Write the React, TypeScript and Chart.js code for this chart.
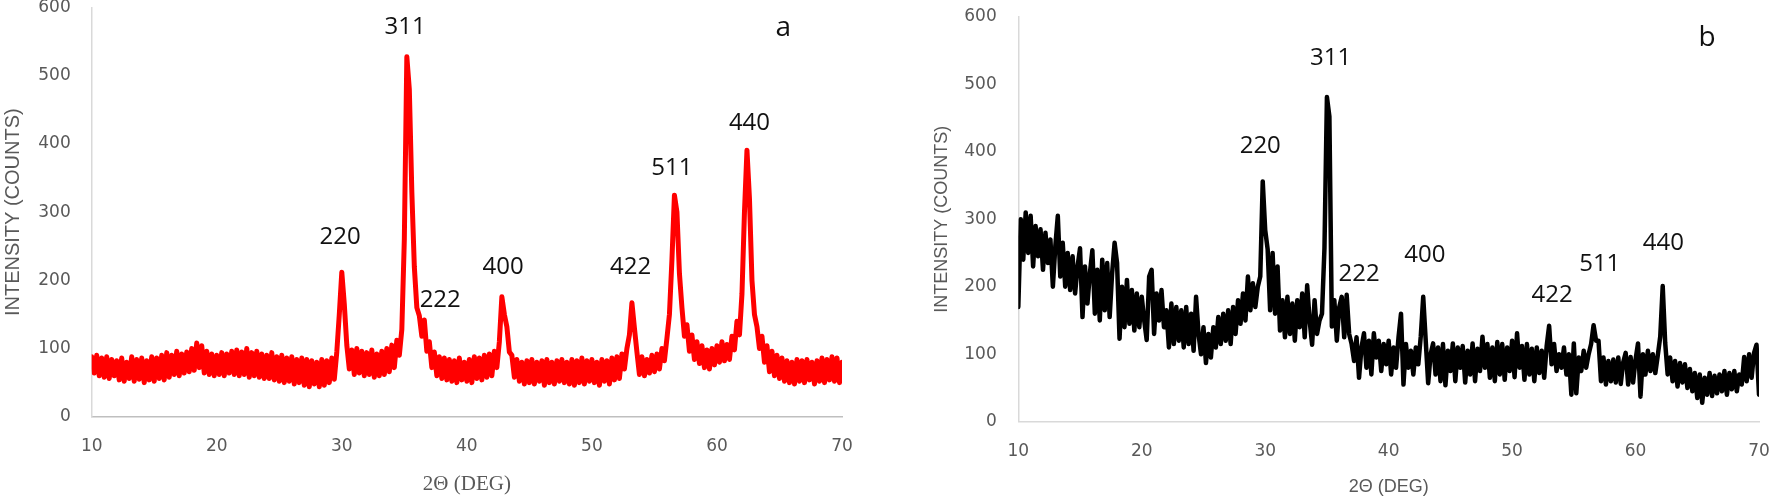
import React, { useEffect, useRef } from "react";
import { Chart, registerables } from "chart.js";

Chart.register(...registerables);

// Sampling grid (2θ, degrees)
const TWO_THETA_START = 10;
const TWO_THETA_STEP = 0.2;

// Panel a intensity (counts), one row per degree: x.0, x.2, x.4, x.6, x.8
const intensityA = [
  88, 64, 90, 60, 86,
  58, 88, 56, 84, 60,
  82, 54, 86, 52, 80,
  56, 88, 52, 84, 55,
  86, 50, 82, 54, 88,
  52, 86, 56, 90, 54,
  94, 58, 90, 62, 96,
  60, 92, 64, 95, 66,
  100, 68, 108, 72, 104,
  64, 96, 62, 92, 60,
  90, 62, 94, 60, 92,
  64, 96, 62, 98, 60,
  95, 62, 100, 58, 94,
  60, 96, 58, 92, 56,
  90, 56, 94, 54, 88,
  52, 90, 50, 86, 52,
  88, 48, 84, 50, 86,
  46, 84, 44, 82, 48,
  80, 44, 84, 46, 82,
  50, 86, 55, 95, 150,
  212, 165, 105, 70, 98,
  62, 100, 64, 96, 60,
  94, 62, 98, 58, 92,
  60, 96, 62, 100, 66,
  105, 72, 112, 90, 128,
  260, 528, 480, 330, 220,
  160, 148, 118, 142, 96,
  110, 72, 95, 60, 88,
  56, 86, 54, 84, 52,
  82, 50, 86, 54, 80,
  52, 84, 50, 88, 56,
  86, 54, 90, 58, 92,
  60, 96, 72, 110, 176,
  150, 132, 95, 90, 58,
  84, 52, 80, 48, 82,
  50, 84, 48, 80, 52,
  82, 46, 84, 50, 80,
  48, 82, 52, 84, 50,
  80, 48, 84, 46, 82,
  50, 86, 48, 82, 52,
  84, 50, 80, 46, 84,
  52, 82, 48, 86, 54,
  88, 56, 92, 70, 100,
  120, 167, 130, 95, 62,
  88, 60, 84, 64, 90,
  66, 92, 70, 100, 82,
  115, 150, 230, 325, 300,
  210, 160, 118, 135, 96,
  120, 84, 110, 78, 104,
  72, 98, 70, 100, 76,
  104, 80, 110, 82, 106,
  84, 118, 98, 140, 120,
  180, 300, 391, 320, 200,
  150, 132, 100, 118, 80,
  104, 66, 96, 60, 90,
  56, 86, 52, 82, 50,
  80, 48, 84, 52, 82,
  50, 84, 54, 80, 48,
  82, 52, 86, 50, 84,
  54, 88, 52, 86, 50,
  80,
];

// Panel b intensity (counts)
const intensityB = [
  170, 300, 240, 310, 250,
  305, 230, 290, 245, 285,
  225, 280, 235, 270, 200,
  260, 305, 215, 265, 200,
  250, 195, 245, 190, 230,
  257, 155, 230, 175, 220,
  254, 160, 225, 150, 240,
  165, 235, 155, 220, 265,
  235, 123, 200, 140, 210,
  145, 195, 135, 190, 140,
  185, 150, 121, 215, 225,
  130, 190, 150, 195, 140,
  165, 110, 175, 115, 170,
  120, 165, 110, 170, 115,
  160, 105, 185, 130, 100,
  140, 87, 130, 95, 140,
  110, 155, 115, 160, 120,
  165, 115, 170, 130, 180,
  145, 190, 150, 215, 165,
  205, 170, 200, 215, 356,
  284, 255, 165, 250, 160,
  230, 135, 180, 125, 185,
  130, 175, 120, 180, 140,
  190, 125, 202, 150, 114,
  180, 130, 150, 160, 257,
  481, 452, 141, 180, 120,
  170, 185, 125, 188, 130,
  115, 90, 125, 65, 110,
  131, 80, 120, 70, 131,
  95, 120, 75, 115, 85,
  120, 70, 110, 80, 125,
  160, 55, 115, 80, 105,
  70, 110, 85, 126, 185,
  121, 57, 100, 116, 70,
  110, 60, 115, 54, 105,
  75, 116, 60, 110, 80,
  112, 58, 105, 70, 116,
  60, 108, 75, 126, 80,
  115, 65, 110, 60, 118,
  70, 115, 62, 110, 75,
  120, 66, 131, 80, 112,
  62, 115, 70, 108, 60,
  110, 72, 105, 65, 112,
  142, 85, 115, 75, 100,
  80, 110, 70, 100, 40,
  116, 42, 95, 75, 105,
  80, 100, 115, 143, 120,
  120, 60, 95, 55, 90,
  60, 92, 58, 95, 56,
  88, 102, 55, 96, 58,
  92, 116, 37, 100, 70,
  105, 75, 100, 72, 98,
  126, 201, 117, 70, 95,
  60, 90, 52, 87, 58,
  85, 50, 78, 45, 72,
  35, 70, 28, 65, 40,
  72, 38, 68, 42, 70,
  45, 75, 40, 72, 48,
  75, 45, 70, 55, 96,
  60, 100, 65, 102, 114,
  40,
];

// Axis ranges / ticks
const X_MIN = 10;
const X_MAX = 70;
const X_STEP = 10;
const Y_MIN = 0;
const Y_MAX = 600;
const Y_STEP = 100;

// Peak annotations (Miller indices) at data coordinates
const peakTextA = ["220", "311", "222", "400", "422", "511", "440", "a"];
const peakXA = [29.86, 35.07, 37.87, 42.9, 53.1, 56.4, 62.6, 65.3];
const peakYA = [263, 571, 171, 219, 219, 364, 430, 570];

const peakTextB = ["220", "311", "222", "400", "422", "511", "440", "b"];
const peakXB = [29.6, 35.3, 37.6, 42.94, 53.24, 57.1, 62.25, 65.8];
const peakYB = [408, 538, 219, 247, 187, 233, 264, 568];

const toPoints = (vals: number[]) =>
  vals.map((v, i) => ({ x: TWO_THETA_START + i * TWO_THETA_STEP, y: v }));

type PanelOpts = {
  data: number[];
  color: string;
  lineWidth: number;
  texts: string[];
  tx: number[];
  ty: number[];
  width: number;
  padTop: number;
  padRight: number;
  yWidth: number;
  xHeight: number;
  yTickPad: number;
  xTickPad: number;
  yTitleSize: number;
  yTitlePadTop: number;
  xTitleFont: string;
  xTitleSize: number;
  xTitlePadBottom: number;
  xBorder: string;
  yBorder: string;
};

function makeConfig(o: PanelOpts): any {
  const annot = {
    id: "peakLabels",
    afterDatasetsDraw(chart: any) {
      const { ctx, scales } = chart;
      ctx.save();
      ctx.fillStyle = "#111111";
      ctx.textAlign = "center";
      ctx.textBaseline = "middle";
      o.texts.forEach((t, i) => {
        const isPanel = t.length === 1;
        ctx.font = isPanel ? '28px "Open Sans"' : '24px "Open Sans"';
        ctx.fillText(t, scales.x.getPixelForValue(o.tx[i]), scales.y.getPixelForValue(o.ty[i]));
      });
      ctx.restore();
    },
  };
  return {
    type: "line",
    data: {
      datasets: [
        {
          data: toPoints(o.data),
          borderColor: o.color,
          borderWidth: o.lineWidth,
          borderJoinStyle: "round",
          borderCapStyle: "round",
          pointRadius: 0,
          tension: 0,
          fill: false,
        },
      ],
    },
    options: {
      animation: false,
      responsive: false,
      layout: { padding: { left: 0, top: o.padTop, right: o.padRight, bottom: 0 } },
      plugins: { legend: { display: false }, tooltip: { enabled: false } },
      scales: {
        x: {
          type: "linear",
          min: X_MIN,
          max: X_MAX,
          ticks: {
            stepSize: X_STEP,
            color: "#595959",
            font: { family: "DejaVu Sans", size: 17 },
            padding: o.xTickPad,
            maxRotation: 0,
          },
          grid: { display: false, drawTicks: false },
          border: { display: true, color: o.xBorder, width: 1.5 },
          title: {
            display: true,
            text: "2Θ (DEG)",
            color: "#595959",
            font: { family: o.xTitleFont, size: o.xTitleSize },
            padding: { top: 0, bottom: o.xTitlePadBottom },
          },
          afterFit: (s: any) => {
            s.height = o.xHeight;
            s.paddingLeft = 0;
            s.paddingRight = 0;
          },
        },
        y: {
          type: "linear",
          min: Y_MIN,
          max: Y_MAX,
          ticks: {
            stepSize: Y_STEP,
            color: "#595959",
            font: { family: "DejaVu Sans", size: 17 },
            padding: o.yTickPad,
          },
          grid: { display: false, drawTicks: false },
          border: { display: true, color: o.yBorder, width: 1.5 },
          title: {
            display: true,
            text: "INTENSITY (COUNTS)",
            color: "#595959",
            font: { family: "Liberation Sans", size: o.yTitleSize },
            padding: { top: o.yTitlePadTop, bottom: 0 },
          },
          afterFit: (s: any) => {
            s.width = o.yWidth;
            s.paddingTop = 0;
            s.paddingBottom = 0;
          },
        },
      },
    },
    plugins: [annot],
  };
}

function Panel({ opts, left }: { opts: PanelOpts; left: number }) {
  const ref = useRef<HTMLCanvasElement | null>(null);
  useEffect(() => {
    if (!ref.current) return;
    const chart = new Chart(ref.current, makeConfig(opts));
    return () => chart.destroy();
  }, []);
  return (
    <div style={{ position: "absolute", left, top: 0, width: opts.width, height: 501 }}>
      <canvas ref={ref} width={opts.width} height={501} style={{ display: "block" }} />
    </div>
  );
}

const panelA: PanelOpts = {
  data: intensityA,
  color: "#ff0000",
  lineWidth: 5,
  texts: peakTextA,
  tx: peakXA,
  ty: peakYA,
  width: 880,
  padTop: 7.7,
  padRight: 38,
  yWidth: 91.7,
  xHeight: 84.3,
  yTickPad: 21,
  xTickPad: 19.5,
  yTitleSize: 20,
  yTitlePadTop: 1,
  xTitleFont: "Liberation Serif",
  xTitleSize: 21,
  xTitlePadBottom: 4,
  xBorder: "#bfbfbf",
  yBorder: "#d9d9d9",
};

const panelB: PanelOpts = {
  data: intensityB,
  color: "#000000",
  lineWidth: 4.5,
  texts: peakTextB,
  tx: peakXB,
  ty: peakYB,
  width: 894,
  padTop: 16.7,
  padRight: 15,
  yWidth: 138.3,
  xHeight: 79.3,
  yTickPad: 21.6,
  xTickPad: 19.5,
  yTitleSize: 18,
  yTitlePadTop: 51,
  xTitleFont: "Liberation Sans",
  xTitleSize: 18,
  xTitlePadBottom: 3,
  xBorder: "#d9d9d9",
  yBorder: "#d9d9d9",
};

export default function App() {
  return (
    <div style={{ position: "fixed", left: 0, top: 0, width: 1774, height: 501, background: "#ffffff", overflow: "hidden" }}>
      <Panel opts={panelA} left={0} />
      <Panel opts={panelB} left={880} />
    </div>
  );
}
